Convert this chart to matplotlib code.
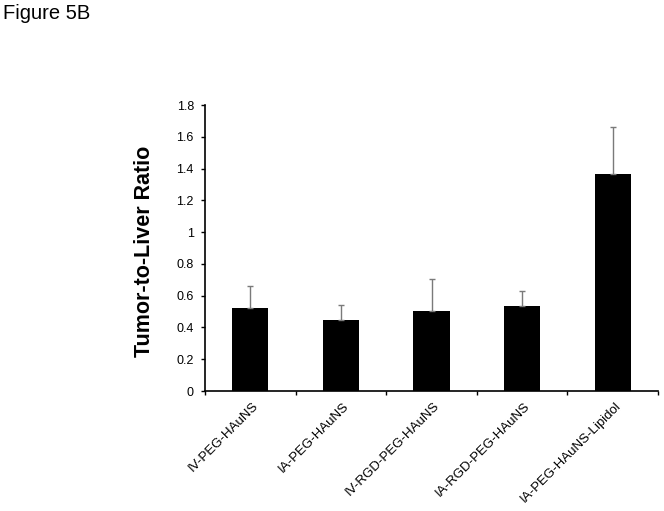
import matplotlib
matplotlib.use("Agg")
import matplotlib.pyplot as plt
import numpy as np

plt.rcParams['font.family'] = ['Liberation Sans', 'DejaVu Sans']

categories = ["IV-PEG-HAuNS", "IA-PEG-HAuNS", "IV-RGD-PEG-HAuNS",
              "IA-RGD-PEG-HAuNS", "IA-PEG-HAuNS-Lipidol"]
values = [0.52, 0.45, 0.505, 0.533, 1.367]
errors = [0.14, 0.09, 0.20, 0.095, 0.295]
yticks = [0, 0.2, 0.4, 0.6, 0.8, 1.0, 1.2, 1.4, 1.6, 1.8]
ytick_labels = ["0", "0.2", "0.4", "0.6", "0.8", "1", "1.2", "1.4", "1.6", "1.8"]

fig = plt.figure(figsize=(6.64, 5.11), dpi=100)
ax = fig.add_axes([205/664, 1-391/511, (658-205)/664, (391-105)/511])

x = np.arange(len(categories))
ax.bar(x, values, width=0.4, color='black', zorder=2)
ax.errorbar(x, values, yerr=[np.zeros(len(errors)), errors], fmt='none',
            ecolor='#7a7a7a', elinewidth=1.0, capsize=2.5, capthick=1.0, zorder=3)

ax.set_xlim(-0.5, len(categories) - 0.5)
ax.set_ylim(0, 1.8)
ax.set_yticks(yticks)
ax.set_yticklabels(ytick_labels, fontsize=9)
ax.set_xticks(np.arange(len(categories) + 1) - 0.5)
ax.set_xticklabels([])
ax.tick_params(axis='both', direction='out', length=3, width=1)
ax.tick_params(axis='y', pad=5)
for i, c in enumerate(categories):
    ax.text(i + 0.02, -0.057, c, rotation=45, ha='right', va='top',
            rotation_mode='anchor', fontsize=9.5, transform=ax.transData)

for s in ['top', 'right']:
    ax.spines[s].set_visible(False)
for s in ['left', 'bottom']:
    ax.spines[s].set_linewidth(1.2)

fig.text(144/664, 1-251/511, "Tumor-to-Liver Ratio", fontsize=15.5, fontweight='bold',
         rotation=90, ha='center', va='center')
fig.text(3/664, 1-19/511, "Figure 5B", fontsize=14.5, ha='left', va='baseline')

fig.savefig("out.png", dpi=100)
